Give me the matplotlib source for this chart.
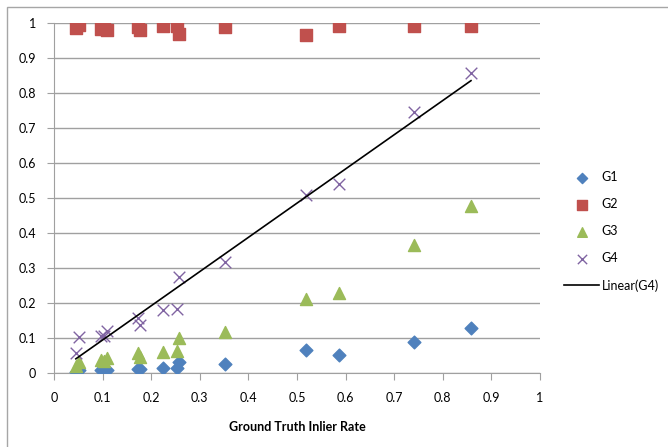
# scatter of G1-G4 against ground truth inlier rate, with linear trend on G4
import numpy as np
import matplotlib.pyplot as plt
from matplotlib.patches import Rectangle

plt.rcParams['font.family'] = ['Lato', 'DejaVu Sans']

# data
x = [0.045, 0.052, 0.097, 0.102, 0.110, 0.172, 0.176, 0.225, 0.253, 0.258,
     0.351, 0.518, 0.586, 0.740, 0.858]
g1 = [0.003, 0.008, 0.009, 0.010, 0.010, 0.012, 0.012, 0.013, 0.015, 0.031,
      0.026, 0.066, 0.052, 0.089, 0.129]
g2 = [0.985, 0.993, 0.982, 0.985, 0.980, 0.990, 0.980, 0.992, 0.991, 0.968,
      0.990, 0.966, 0.991, 0.991, 0.991]
g3 = [0.020, 0.032, 0.037, 0.035, 0.042, 0.056, 0.047, 0.061, 0.063, 0.099,
      0.118, 0.211, 0.229, 0.367, 0.477]
g4 = [0.056, 0.102, 0.107, 0.105, 0.119, 0.157, 0.138, 0.180, 0.182, 0.274,
      0.316, 0.509, 0.540, 0.746, 0.858]

xticks = [0, 0.1, 0.2, 0.3, 0.4, 0.5, 0.6, 0.7, 0.8, 0.9, 1]
yticks = [0, 0.1, 0.2, 0.3, 0.4, 0.5, 0.6, 0.7, 0.8, 0.9, 1]

fig = plt.figure(figsize=(6.68, 4.47), dpi=100)
ax = fig.add_axes([54/668, 1-373/447, 486/668, 350/447])

# chart border (excel style)
fig.patches.append(Rectangle((7/668, -0.1), 1.0, 1-7/447+0.1, transform=fig.transFigure,
                             fill=False, edgecolor='#a6a6a6', linewidth=1.0))

ax.scatter(x, g1, marker='D', s=42, color='#4f81bd', label='G1', zorder=3)
ax.scatter(x, g2, marker='s', s=75, color='#c0504d', label='G2', zorder=3)
ax.scatter(x, g3, marker='^', s=75, color='#9bbb59', label='G3', zorder=3)
ax.scatter(x, g4, marker='x', s=70, color='#8064a2', linewidths=1.0, label='G4', zorder=3)

# linear trend of G4
k, b = np.polyfit(x, g4, 1)
xl = np.array([min(x), max(x)])
ax.plot(xl, k*xl + b, color='black', linewidth=1.2, label='Linear(G4)', zorder=4)

ax.set_xlim(0, 1)
ax.set_ylim(0, 1)
ax.set_xticks(xticks)
ax.set_yticks(yticks)
ax.set_xticklabels(['%g' % t for t in xticks])
ax.set_yticklabels(['%g' % t for t in yticks])
ax.yaxis.grid(True, color='#a0a0a0', linewidth=1.0)
ax.set_axisbelow(True)
for s in ['top', 'right']:
    ax.spines[s].set_visible(False)
for s in ['left', 'bottom']:
    ax.spines[s].set_color('#a0a0a0')
ax.tick_params(axis='both', colors='#a0a0a0', labelcolor='black', labelsize=9,
               length=5, direction='out')
ax.tick_params(axis='y', pad=8)
ax.tick_params(axis='x', pad=9)
ax.set_xlabel('Ground Truth Inlier Rate', fontsize=9, fontweight='bold', labelpad=12)

ax.legend(loc='center left', bbox_to_anchor=(1.032, 0.405), frameon=False, fontsize=9,
          handlelength=2.8, labelspacing=1.2, handletextpad=0.2, borderaxespad=0.3,
          markerscale=0.8)

fig.savefig('out.png', dpi=100)
